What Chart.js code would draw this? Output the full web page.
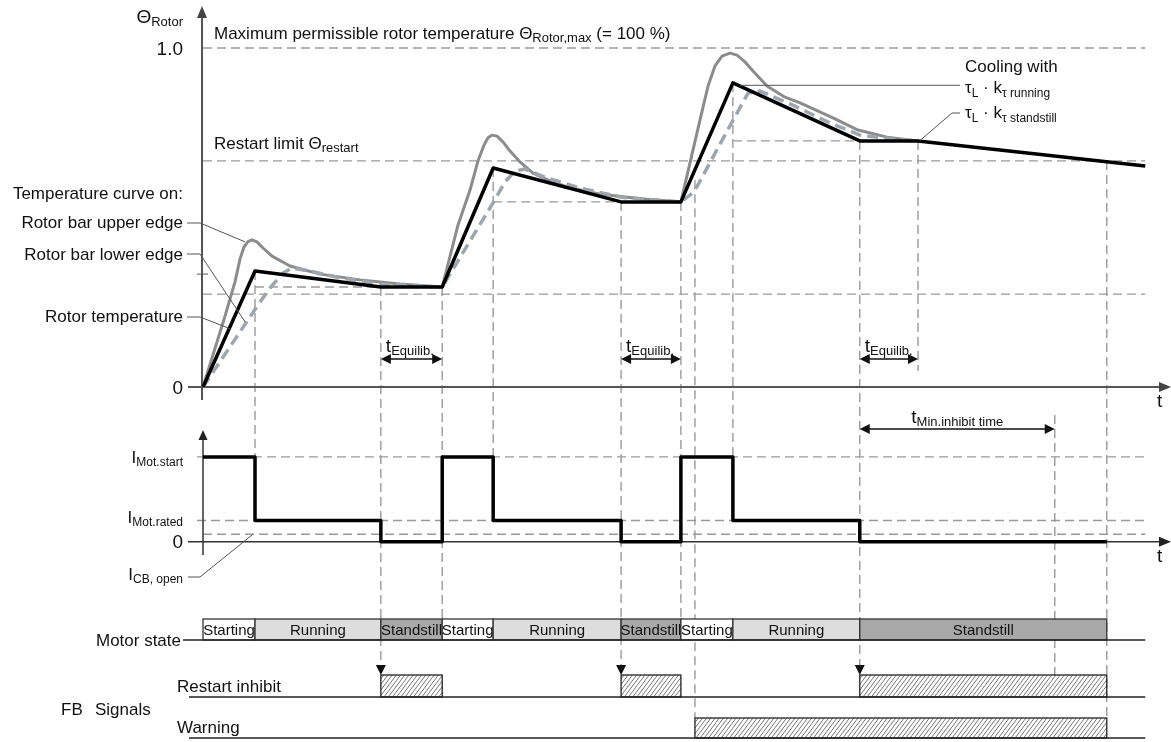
<!DOCTYPE html>
<html>
<head>
<meta charset="utf-8">
<title>Rotor temperature, motor current and restart inhibit</title>
<script src="https://cdn.jsdelivr.net/npm/chart.js@4.4.1/dist/chart.umd.min.js"></script>
<style>
  html, body { margin: 0; padding: 0; background: #fff; }
  canvas { display: block; }
</style>
</head>
<body>
<canvas id="diagram" width="1171" height="742"></canvas>
<script>
// time in s, temperature relative to Θ_Rotor,max, current relative to I_Mot.rated
var rotorTempT = [0, 10, 34.2, 46, 55.8, 80.4, 91.9, 101.9, 126.3, 137.5, 181.2];
var rotorTempV = [0, 0.342, 0.295, 0.295, 0.646, 0.546, 0.546, 0.897, 0.726, 0.726, 0.652];

var upperEdgeT = [0, 4.23, 6.15, 7.12, 7.88, 8.65, 9.42, 10.38, 11.54, 13.27, 16.73, 22.5, 30.19, 37.88, 46,
  49.04, 51.35, 52.88, 54.04, 54.81, 55.58, 56.54, 57.69, 59.04, 60.96, 63.46, 66.73, 70, 76.35, 84.04, 91.9,
  93.65, 95.58, 97.12, 98.46, 99.81, 101.35, 102.69, 104.23, 105.77, 108.46, 111.92, 114.81, 121.15, 125.96, 131.54, 137.5];
var upperEdgeV = [0, 0.209, 0.310, 0.378, 0.413, 0.429, 0.434, 0.428, 0.410, 0.386, 0.357, 0.333, 0.316, 0.304, 0.295,
  0.478, 0.581, 0.667, 0.714, 0.735, 0.743, 0.740, 0.723, 0.696, 0.664, 0.631, 0.608, 0.590, 0.569, 0.555, 0.546,
  0.661, 0.788, 0.888, 0.947, 0.976, 0.985, 0.979, 0.959, 0.932, 0.888, 0.855, 0.838, 0.794, 0.758, 0.737, 0.726];

var lowerEdgeT = [0, 10.19, 12.88, 15.38, 17.12, 20.58, 26.35, 34.23, 46,
  55.77, 58.08, 60, 61.92, 65.77, 72.5, 80.38, 91.9,
  94.42, 101.54, 104.81, 107.12, 112.88, 120.58, 126.35, 132.12, 137.5];
var lowerEdgeV = [0, 0.233, 0.292, 0.336, 0.351, 0.342, 0.322, 0.304, 0.295,
  0.543, 0.605, 0.637, 0.643, 0.619, 0.587, 0.560, 0.546,
  0.575, 0.776, 0.867, 0.873, 0.835, 0.779, 0.743, 0.732, 0.726];

var currentT = [0, 10, 34.2, 46, 55.8, 80.4, 91.9, 101.9, 126.3, 173.8];
var currentI = [4, 1, 0, 4, 1, 0, 4, 1, 0, 0];

var stateStart = [0, 10, 34.2, 46, 55.8, 80.4, 91.9, 101.9, 126.3];
var stateEnd = [10, 34.2, 46, 55.8, 80.4, 91.9, 101.9, 126.3, 173.8];
var stateName = ['Starting', 'Running', 'Standstill', 'Starting', 'Running', 'Standstill', 'Starting', 'Running', 'Standstill'];

var inhibitStart = [34.2, 80.4, 126.3];
var inhibitEnd = [46, 91.9, 173.8];
var warningStart = [94.6];
var warningEnd = [173.8];
var equilibStart = [34.2, 80.4, 126.3];
var equilibEnd = [46, 91.9, 137.5];
var minInhibit = [126.3, 163.8];

var thetaTicks = [0, 1.0];
var thetaTickLabels = ['0', '1.0'];
var thetaMax = 1.0;
var restartLimit = 0.667;
var thetaLevels = [0.274];
var thetaMark = 0.333;
var currentLevels = [4, 1, 0.35]; // I_Mot.start, I_Mot.rated, I_CB,open
var tEnd = 181.2;

var FONT = '"Liberation Sans", Arial, Helvetica, sans-serif';

function font(size) { return size + 'px ' + FONT; }

function pts(ts, vs) {
  return ts.map(function (t, i) { return { x: t, y: vs[i] }; });
}

function poly(ctx, p, color, width, dash) {
  ctx.save();
  ctx.strokeStyle = color;
  ctx.lineWidth = width;
  ctx.setLineDash(dash || []);
  ctx.beginPath();
  p.forEach(function (q, i) { if (i) ctx.lineTo(q[0], q[1]); else ctx.moveTo(q[0], q[1]); });
  ctx.stroke();
  ctx.restore();
}

function guide(ctx, x0, y0, x1, y1) {
  poly(ctx, [[x0, y0], [x1, y1]], '#9a9a9a', 1.4, [9, 5]);
}

function head(ctx, x, y, dir, len, half) {
  ctx.beginPath();
  ctx.moveTo(x, y);
  if (dir === 'up') { ctx.lineTo(x - half, y + len); ctx.lineTo(x + half, y + len); }
  if (dir === 'down') { ctx.lineTo(x - half, y - len); ctx.lineTo(x + half, y - len); }
  if (dir === 'left') { ctx.lineTo(x + len, y - half); ctx.lineTo(x + len, y + half); }
  if (dir === 'right') { ctx.lineTo(x - len, y - half); ctx.lineTo(x - len, y + half); }
  ctx.closePath();
  ctx.fill();
}

// parts: [text, size, baseline offset]
function rich(ctx, parts, x, y, align) {
  var w = 0;
  parts.forEach(function (p) { ctx.font = font(p[1]); w += ctx.measureText(p[0]).width; });
  var cx = align === 'right' ? x - w : (align === 'center' ? x - w / 2 : x);
  ctx.textAlign = 'left';
  ctx.textBaseline = 'alphabetic';
  parts.forEach(function (p) {
    ctx.font = font(p[1]);
    ctx.fillText(p[0], cx, y + (p[2] || 0));
    cx += ctx.measureText(p[0]).width;
  });
}

function hatchBox(ctx, x0, x1, y0, y1) {
  var h = y1 - y0;
  ctx.save();
  ctx.fillStyle = '#fff';
  ctx.fillRect(x0, y0, x1 - x0, h);
  ctx.beginPath();
  ctx.rect(x0, y0, x1 - x0, h);
  ctx.clip();
  ctx.strokeStyle = '#555';
  ctx.lineWidth = 0.8;
  ctx.beginPath();
  for (var x = x0 - h; x < x1 + 4; x += 4.2) {
    ctx.moveTo(x, y1);
    ctx.lineTo(x + h * 0.75, y0);
  }
  ctx.stroke();
  ctx.restore();
  ctx.strokeStyle = '#222';
  ctx.lineWidth = 1.3;
  ctx.strokeRect(x0, y0, x1 - x0, h);
}

var diagramPlugin = {
  id: 'diagram',
  beforeDatasetsDraw: function (chart) {
    var ctx = chart.ctx, s = chart.scales;
    var X = function (t) { return s.x.getPixelForValue(t); };
    var YT = function (v) { return s.yT.getPixelForValue(v); };
    var YI = function (v) { return s.yI.getPixelForValue(v); };
    ctx.save();

    // horizontal guides, temperature
    [thetaMax, restartLimit].concat(thetaLevels).forEach(function (v) {
      guide(ctx, X(0), YT(v), X(tEnd), YT(v));
    });
    guide(ctx, X(currentT[1]), YT(rotorTempV[2]), X(currentT[2]), YT(rotorTempV[2]));
    guide(ctx, X(currentT[4]), YT(rotorTempV[5]), X(currentT[5]), YT(rotorTempV[5]));
    guide(ctx, X(currentT[7]), YT(rotorTempV[8]), X(currentT[8]), YT(rotorTempV[8]));

    // horizontal guides, current
    guide(ctx, X(0) - 6, YI(currentLevels[0]), X(tEnd), YI(currentLevels[0]));
    guide(ctx, X(0) - 6, YI(currentLevels[1]), X(tEnd), YI(currentLevels[1]));
    guide(ctx, X(0), YI(currentLevels[2]), X(tEnd), YI(currentLevels[2]));

    // vertical guides
    var inhTop = 675, stateTop = 619, warnTop = 718;
    [1, 4, 7].forEach(function (i) { guide(ctx, X(currentT[i]), YT(rotorTempV[i]), X(currentT[i]), YI(currentLevels[0])); });
    [2, 5, 8].forEach(function (i) { guide(ctx, X(currentT[i]), YT(rotorTempV[i]), X(currentT[i]), inhTop - 8); });
    [3, 6].forEach(function (i) { guide(ctx, X(currentT[i]), YT(rotorTempV[i]), X(currentT[i]), stateTop); });
    guide(ctx, X(equilibEnd[2]), YT(rotorTempV[9]), X(equilibEnd[2]), 371);
    guide(ctx, X(warningStart[0]), YT(0.61), X(warningStart[0]), warnTop);
    guide(ctx, X(minInhibit[1]), 415, X(minInhibit[1]), inhTop);
    guide(ctx, X(warningEnd[0]), YT(restartLimit), X(warningEnd[0]), warnTop);

    // axes
    ctx.fillStyle = '#444';
    poly(ctx, [[X(0) - 1, 400], [X(0) - 1, 16]], '#555', 2);
    head(ctx, X(0) - 1, 6, 'up', 12, 5);
    poly(ctx, [[188, YT(0)], [1160, YT(0)]], '#555', 2);
    head(ctx, 1171, YT(0), 'right', 12, 5);
    poly(ctx, [[X(0) - 6, YT(thetaMark)], [X(0) + 5, YT(thetaMark)]], '#555', 1);

    ctx.fillStyle = '#222';
    poly(ctx, [[X(0), 555], [X(0), 438]], '#333', 1.5);
    head(ctx, X(0), 430, 'up', 10, 4.5);
    poly(ctx, [[188, YI(0)], [1160, YI(0)]], '#333', 1.5);
    head(ctx, 1171, YI(0), 'right', 12, 5);
    ctx.restore();
  },
  afterDatasetsDraw: function (chart) {
    var ctx = chart.ctx, s = chart.scales;
    var X = function (t) { return s.x.getPixelForValue(t); };
    var YT = function (v) { return s.yT.getPixelForValue(v); };
    var YI = function (v) { return s.yI.getPixelForValue(v); };
    ctx.save();

    // rows: motor state and FB signals
    var stateTop = 619, stateBot = 640, inhTop = 675, inhBot = 697, warnTop = 718, warnBot = 738;
    var fills = { Starting: '#ffffff', Running: '#dddddd', Standstill: '#a8a8a8' };
    stateName.forEach(function (n, i) {
      var x0 = X(stateStart[i]), x1 = X(stateEnd[i]);
      ctx.fillStyle = fills[n];
      ctx.fillRect(x0, stateTop, x1 - x0, stateBot - stateTop);
      ctx.strokeStyle = '#333';
      ctx.lineWidth = 1.3;
      ctx.strokeRect(x0, stateTop, x1 - x0, stateBot - stateTop);
      ctx.fillStyle = '#111';
      ctx.font = font(15);
      ctx.textAlign = 'center';
      ctx.textBaseline = 'middle';
      ctx.fillText(n, (x0 + x1) / 2, (stateTop + stateBot) / 2 + 1);
    });
    inhibitStart.forEach(function (t, i) { hatchBox(ctx, X(t), X(inhibitEnd[i]), inhTop, inhBot); });
    warningStart.forEach(function (t, i) { hatchBox(ctx, X(t), X(warningEnd[i]), warnTop, warnBot); });
    [stateBot, inhBot, warnBot].forEach(function (y) { poly(ctx, [[189, y], [X(tEnd), y]], '#222', 1.5); });
    ctx.fillStyle = '#111';
    inhibitStart.forEach(function (t) { head(ctx, X(t), inhTop, 'down', 10, 5); });

    // t_Equilib. and t_Min.inhibit time arrows
    ctx.fillStyle = '#111';
    equilibStart.forEach(function (t, i) {
      var a = X(t), b = X(equilibEnd[i]), y = 359;
      poly(ctx, [[a + 6, y], [b - 6, y]], '#111', 1.4);
      head(ctx, a, y, 'left', 10, 5);
      head(ctx, b, y, 'right', 10, 5);
      rich(ctx, [['t', 19], ['Equilib.', 13, 3]], a + 5, 352, 'left');
    });
    (function () {
      var a = X(minInhibit[0]), b = X(minInhibit[1]), y = 429;
      poly(ctx, [[a + 6, y], [b - 6, y]], '#111', 1.4);
      head(ctx, a, y, 'left', 10, 5);
      head(ctx, b, y, 'right', 10, 5);
      rich(ctx, [['t', 19], ['Min.inhibit time', 13, 3]], (a + b) / 2, 423, 'center');
    })();

    // leader lines
    var lc = '#555';
    poly(ctx, [[187, 223], [200, 223], [X(8.1), YT(0.428)]], lc, 1);
    poly(ctx, [[187, 254], [200, 254], [X(8.1), YT(0.192)]], lc, 1);
    poly(ctx, [[187, 317], [200, 317], [X(5.2), YT(0.172)]], lc, 1);
    poly(ctx, [[X(103.3), YT(0.89)], [960, YT(0.89)]], lc, 1);
    poly(ctx, [[X(137.8), YT(0.726)], [952, 113], [960, 113]], lc, 1);
    poly(ctx, [[188, 577], [200, 577], [X(9.6), YI(currentLevels[2])]], lc, 1);

    // texts
    ctx.fillStyle = '#111';
    rich(ctx, [['Θ', 19], ['Rotor', 13, 3]], 183, 23, 'right');
    thetaTicks.forEach(function (v, i) {
      rich(ctx, [[thetaTickLabels[i], 19]], 183, YT(v) + 6.5, 'right');
    });
    rich(ctx, [['Maximum permissible rotor temperature Θ', 17], ['Rotor,max', 13, 3], [' (= 100 %)', 17]], 214, 39, 'left');
    rich(ctx, [['Restart limit Θ', 17], ['restart', 13, 3]], 214, 149, 'left');
    rich(ctx, [['Temperature curve on:', 17]], 183, 199, 'right');
    rich(ctx, [['Rotor bar upper edge', 17]], 183, 228, 'right');
    rich(ctx, [['Rotor bar lower edge', 17]], 183, 260, 'right');
    rich(ctx, [['Rotor temperature', 17]], 183, 322, 'right');
    rich(ctx, [['Cooling with', 17]], 965, 72, 'left');
    rich(ctx, [['τ', 17], ['L', 12, 4], [' · k', 17], ['τ running', 12, 4]], 965, 93, 'left');
    rich(ctx, [['τ', 17], ['L', 12, 4], [' · k', 17], ['τ standstill', 12, 4]], 965, 118, 'left');
    rich(ctx, [['t', 19]], 1157, 407, 'left');
    rich(ctx, [['t', 19]], 1157, 562, 'left');

    rich(ctx, [['I', 17], ['Mot.start', 12, 3]], 183, YI(currentLevels[0]) + 6, 'right');
    rich(ctx, [['I', 17], ['Mot.rated', 12, 3]], 183, YI(currentLevels[1]) + 3, 'right');
    rich(ctx, [['0', 19]], 183, YI(0) + 6.5, 'right');
    rich(ctx, [['I', 17], ['CB, open', 12, 3]], 183, 580, 'right');

    rich(ctx, [['Motor state', 17]], 181, 646, 'right');
    poly(ctx, [[183, stateBot], [189, stateBot]], '#222', 1.5);
    rich(ctx, [['Restart inhibit', 17]], 177, 692, 'left');
    rich(ctx, [['FB', 17]], 61, 715, 'left');
    rich(ctx, [['Signals', 17]], 95, 715, 'left');
    rich(ctx, [['Warning', 17]], 177, 733, 'left');
    ctx.restore();
  }
};

new Chart(document.getElementById('diagram').getContext('2d'), {
  type: 'line',
  data: {
    datasets: [
      {
        label: 'Rotor temperature',
        data: pts(rotorTempT, rotorTempV),
        yAxisID: 'yT',
        borderColor: '#000',
        borderWidth: 3.5
      },
      {
        label: 'Rotor bar lower edge',
        data: pts(lowerEdgeT, lowerEdgeV),
        yAxisID: 'yT',
        borderColor: '#9ea5ad',
        borderWidth: 3.5,
        borderDash: [11, 6]
      },
      {
        label: 'Rotor bar upper edge',
        data: pts(upperEdgeT, upperEdgeV),
        yAxisID: 'yT',
        borderColor: '#8c8c8c',
        borderWidth: 3
      },
      {
        label: 'Motor current',
        data: pts(currentT, currentI),
        yAxisID: 'yI',
        stepped: true,
        borderColor: '#000',
        borderWidth: 3.5
      }
    ]
  },
  options: {
    responsive: false,
    animation: false,
    events: [],
    layout: { padding: 0 },
    elements: {
      point: { radius: 0 },
      line: { tension: 0, borderJoinStyle: 'round', fill: false }
    },
    plugins: {
      legend: { display: false },
      tooltip: { enabled: false },
      title: { display: false }
    },
    scales: {
      x: { type: 'linear', min: -39.04, max: 186.15, display: false },
      yT: { type: 'linear', min: -1.0472, max: 1.1416, display: false },
      yI: { type: 'linear', min: -9.448, max: 25.55, display: false }
    }
  },
  plugins: [diagramPlugin]
});
</script>
</body>
</html>
